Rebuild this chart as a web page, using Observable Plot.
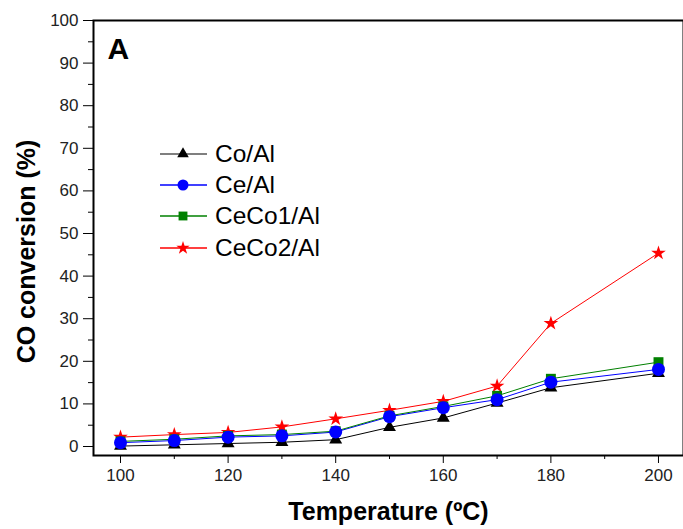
<!DOCTYPE html>
<html>
<head>
<meta charset="utf-8">
<script src="https://cdn.jsdelivr.net/npm/d3@7"></script>
<script src="https://cdn.jsdelivr.net/npm/@observablehq/plot@0.6"></script>
<style>
  html, body { margin: 0; padding: 0; background: white; }
  #wrap { position: relative; width: 683px; height: 529px; font-family: Arial, "Liberation Sans", sans-serif; }
  #legend { position: absolute; left: 160px; top: 138px; }
  .row { display: flex; align-items: center; height: 31.3px; }
  .row span { font-size: 24.5px; margin-left: 7px; color: #000; }
</style>
</head>
<body>
<div id="wrap"></div>
<script>
// ---- data ----
const temperatures = [100, 110, 120, 130, 140, 150, 160, 170, 180, 200];
const coAl    = [0.1, 0.4, 0.7, 1.0, 1.6, 4.5, 6.7, 10.2, 13.8, 17.2];
const ceAl    = [0.9, 1.4, 2.2, 2.5, 3.4, 7.0, 9.1, 11.0, 15.1, 18.1];
const ceCo1Al = [1.2, 1.7, 2.5, 2.8, 3.6, 7.2, 9.4, 11.9, 15.9, 19.8];
const ceCo2Al = [2.2, 2.8, 3.3, 4.6, 6.5, 8.5, 10.6, 14.2, 28.9, 45.4];
const seriesNames = ["Co/Al", "Ce/Al", "CeCo1/Al", "CeCo2/Al"];
const xTicks = [100, 120, 140, 160, 180, 200];
const xMinorTicks = [110, 130, 150, 170, 190];
const yTicks = [0, 10, 20, 30, 40, 50, 60, 70, 80, 90, 100];
const yMinorTicks = [5, 15, 25, 35, 45, 55, 65, 75, 85, 95];

const seriesValues = [coAl, ceAl, ceCo1Al, ceCo2Al];
const styles = {
  "Co/Al":    {color: "#000000", symbol: "triangle", r: 4.8, lr: 4.3},
  "Ce/Al":    {color: "#0000ff", symbol: "circle",   r: 6.5, lr: 5.5},
  "CeCo1/Al": {color: "#008000", symbol: "square",   r: 5.6, lr: 5.0},
  "CeCo2/Al": {color: "#ff0000", symbol: "star",     r: 4.6, lr: 4.2}
};
const series = seriesNames.map((name, i) => ({
  name,
  rows: temperatures.map((t, j) => ({t, v: seriesValues[i][j]}))
}));

const lineMarks = series.map(s => Plot.line(s.rows, {x: "t", y: "v", stroke: styles[s.name].color, strokeWidth: 1}));
const dotOrder = ["CeCo2/Al", "Co/Al", "CeCo1/Al", "Ce/Al"];
const dotMarks = dotOrder.map(n => {
  const s = series.find(d => d.name === n);
  return Plot.dot(s.rows, {x: "t", y: "v", symbol: styles[n].symbol, r: styles[n].r, fill: styles[n].color, stroke: "none"});
});

const chart = Plot.plot({
  width: 683,
  height: 529,
  marginLeft: 93,
  marginTop: 20,
  marginRight: 0,
  marginBottom: 74,
  style: {fontFamily: "Arial, 'Liberation Sans', sans-serif", background: "white", color: "#000"},
  x: {domain: [94.98, 204.65]},
  y: {domain: [-2.11, 100]},
  marks: [
    ...lineMarks,
    ...dotMarks,
    Plot.axisX({ticks: xTicks, tickSize: 8, tickPadding: 5, fontSize: 17, fill: "#222", label: null}),
    Plot.axisX({ticks: xMinorTicks, tickSize: 4, tickFormat: () => "", label: null}),
    Plot.axisY({ticks: yTicks, tickSize: 10, tickPadding: 5, fontSize: 17, fill: "#222", label: null}),
    Plot.axisY({ticks: yMinorTicks, tickSize: 5, tickFormat: () => "", label: null}),
    Plot.frame({stroke: "#000", strokeWidth: 2}),
    Plot.text(["Temperature (ºC)"], {frameAnchor: "bottom", dy: 56, fontSize: 25, fontWeight: "bold", lineAnchor: "middle", textAnchor: "middle"}),
    Plot.text(["CO conversion (%)"], {frameAnchor: "left", dx: -67, dy: 13.5, rotate: -90, fontSize: 25, fontWeight: "bold", lineAnchor: "middle", textAnchor: "middle"}),
    Plot.text(["A"], {frameAnchor: "top-left", dx: 14, dy: 29, fontSize: 30, fontWeight: "bold", textAnchor: "start", lineAnchor: "middle"})
  ]
});
const wrap = document.getElementById("wrap");
wrap.appendChild(chart);

// ---- legend ----
const legend = d3.select(wrap).append("div").attr("id", "legend");
const symbolMap = {triangle: d3.symbolTriangle, circle: d3.symbolCircle, square: d3.symbolSquare, star: d3.symbolStar};
for (const name of seriesNames) {
  const st = styles[name];
  const row = legend.append("div").attr("class", "row");
  const svg = row.append("svg").attr("width", 48).attr("height", 30);
  svg.append("line").attr("x1", 0).attr("x2", 47).attr("y1", 15).attr("y2", 15)
    .attr("stroke", name === "Co/Al" ? "#555" : st.color).attr("stroke-width", 1.5);
  svg.append("path").attr("transform", "translate(23,15)")
    .attr("d", d3.symbol(symbolMap[st.symbol], Math.PI * st.lr * st.lr)())
    .attr("fill", st.color);
  row.append("span").text(name);
}
</script>
</body>
</html>
